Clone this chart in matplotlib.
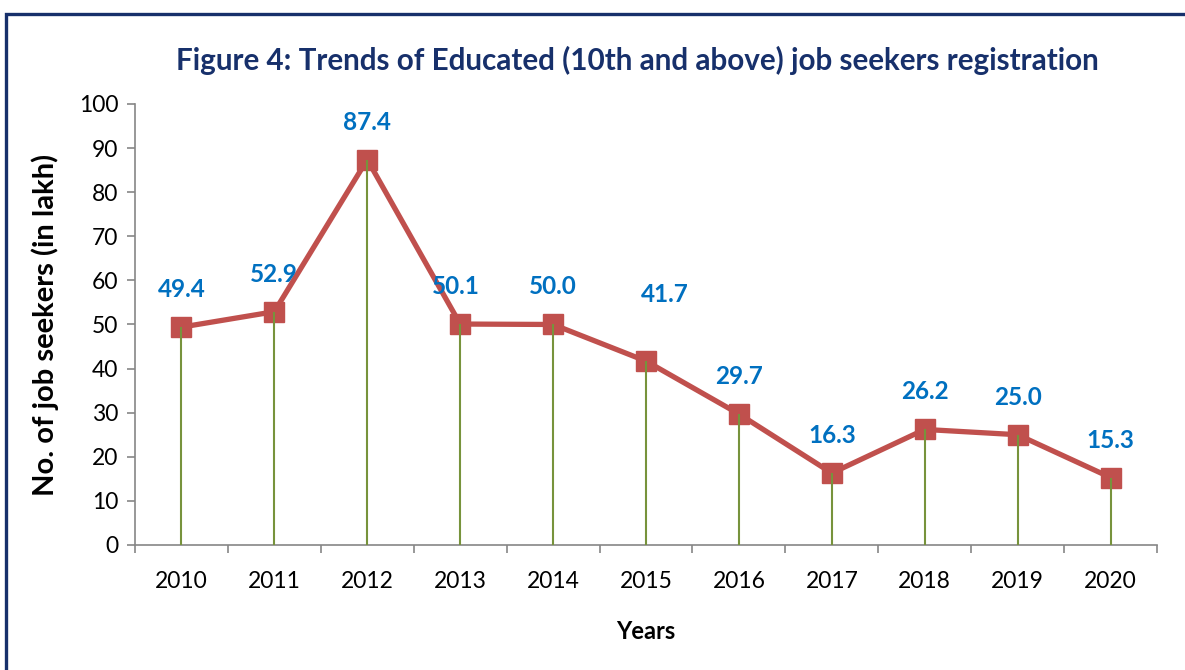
import matplotlib.pyplot as plt
from matplotlib.patches import Rectangle

years = ['2010', '2011', '2012', '2013', '2014', '2015', '2016', '2017', '2018', '2019', '2020']
seekers = [49.4, 52.9, 87.4, 50.1, 50.0, 41.7, 29.7, 16.3, 26.2, 25.0, 15.3]

# label offsets (x in categories, y in data units), like Excel placed them
lab_dx = [0, 0, 0, -0.05, 0, 0.2, 0, 0, 0, 0, 0]
lab_dy = [8.5, 8.5, 8.5, 8.5, 8.5, 15, 8.5, 8.5, 8.5, 8.5, 8.5]

plt.rcParams['font.family'] = ['Lato', 'DejaVu Sans']

fig = plt.figure(figsize=(11.85, 6.7), dpi=100)
ax = fig.add_axes([0.1139, 0.1866, 0.8625, 0.6582])

x = list(range(len(years)))

ax.plot(x, seekers, color='#C0504D', lw=3.8, marker='s', markersize=14.5, zorder=3)
ax.vlines(x, 0, seekers, color='#77933C', lw=1.5, zorder=4)

for i, v in enumerate(seekers):
    ax.text(i + lab_dx[i], v + lab_dy[i], f'{v:.1f}', ha='center', va='center',
            fontsize=17.5, fontweight='bold', color='#0070C0', zorder=5)

ax.set_xlim(-0.5, len(years) - 0.5)
ax.set_ylim(0, 100)
ax.set_yticks(range(0, 101, 10))
ax.set_xticks(x)
ax.set_xticklabels(years)
ax.set_xticks([i - 0.5 for i in range(len(years) + 1)], minor=True)
ax.tick_params(axis='x', which='major', length=0, pad=19, labelsize=16.5)
ax.tick_params(axis='x', which='minor', length=6, color='#868686', width=1.2)
ax.tick_params(axis='y', length=6, color='#868686', width=1.2, labelsize=16.5, pad=6)

for s in ['top', 'right']:
    ax.spines[s].set_visible(False)
for s in ['left', 'bottom']:
    ax.spines[s].set_color('#868686')
    ax.spines[s].set_linewidth(1.2)

ax.set_xlabel('Years', fontsize=17, fontweight='bold', labelpad=20)
ax.set_ylabel('No. of job seekers (in lakh)', fontsize=21, fontweight='bold', labelpad=14)

fig.text(0.538, 0.91, 'Figure 4: Trends of Educated (10th and above) job seekers registration',
         ha='center', va='center', fontsize=21.3, fontweight='bold', color='#17306B')

fig.patches.append(Rectangle((6 / 1185, -0.05), 1.2, 1 - 14 / 670 + 0.05,
                             transform=fig.transFigure, fill=False,
                             edgecolor='#17306B', lw=2.4))

plt.savefig('out.png', dpi=100)
